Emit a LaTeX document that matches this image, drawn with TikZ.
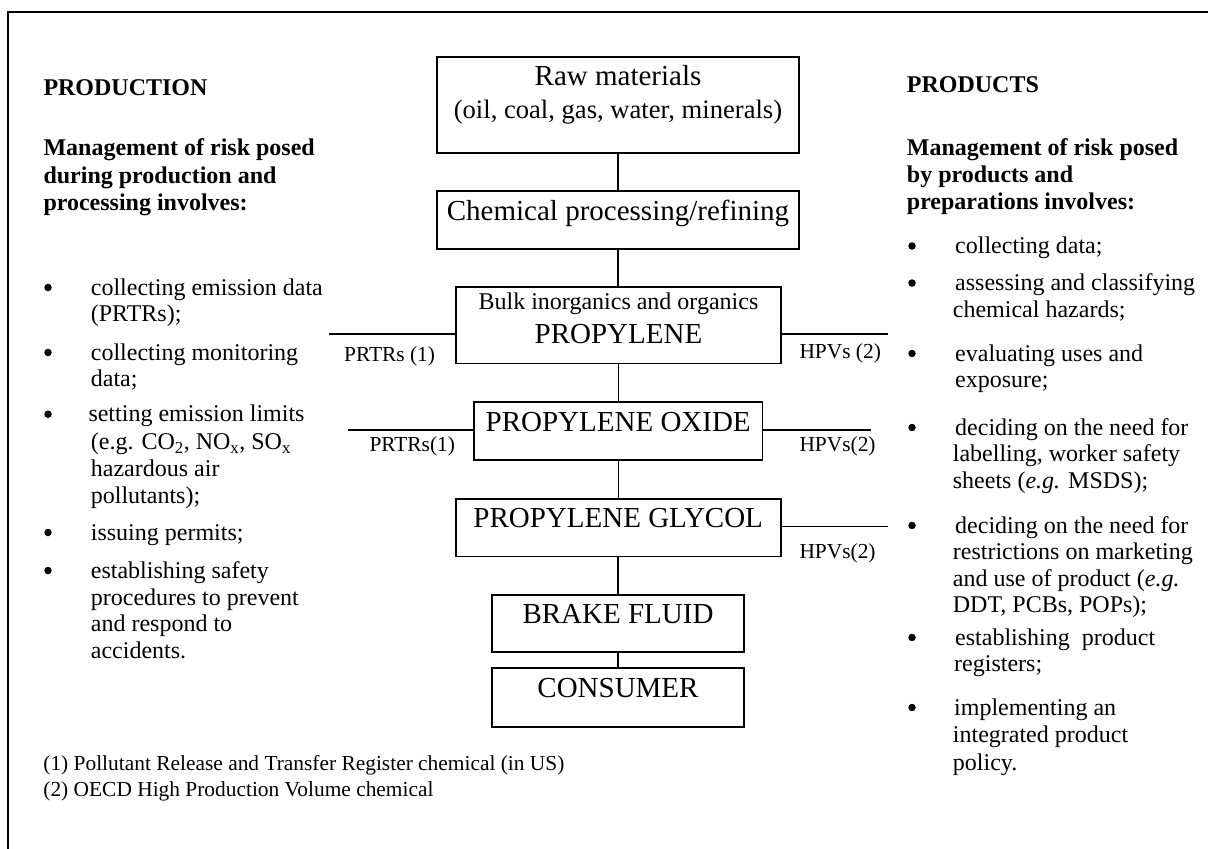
\documentclass[tikz,border=0pt]{standalone}
\usepackage{fontspec}
\setmainfont{Liberation Serif}
\tikzset{
  boxst/.style={draw, line width=1.7pt, inner sep=0pt},
  ln/.style={line width=1.4pt},
  frame/.style={line width=2.2pt},
  body/.style={anchor=base west, inner sep=0pt, font=\fontsize{24}{28}\selectfont},
  bodyb/.style={anchor=base west, inner sep=0pt, font=\fontsize{24}{28}\selectfont\bfseries},
  big/.style={anchor=base, inner sep=0pt, font=\fontsize{29}{33}\selectfont},
  mid/.style={anchor=base, inner sep=0pt, font=\fontsize{26.6}{30}\selectfont},
  cen/.style={anchor=base, inner sep=0pt, font=\fontsize{24}{28}\selectfont},
  small/.style={anchor=base west, inner sep=0pt, font=\fontsize{21.4}{25}\selectfont},
  dot/.style={circle, fill, inner sep=0pt, minimum size=7.5pt},
}
\begin{document}
\begin{tikzpicture}[x=1pt,y=-1pt]
\useasboundingbox (0,0) rectangle (1208,849);
% outer frame (top and left edges)
\coordinate (fcorner) at (8.3,12.3);
\coordinate (fbottom) at (8.3,860);
\coordinate (fright) at (1220,12.3);
\draw[frame] (fbottom) -- (fcorner) -- (fright);

% boxes
\node[boxst, minimum width=362pt, minimum height=96pt] (raw) at (618,105) {};
\node[boxst, minimum width=362pt, minimum height=58pt] (chem) at (618,220) {};
\node[boxst, minimum width=325pt, minimum height=76.3pt] (bulk) at (618.5,325.2) {};
\node[boxst, minimum width=288.5pt, minimum height=58pt] (oxide) at (618.2,431.3) {};
\node[boxst, minimum width=325pt, minimum height=57.3pt] (glycol) at (618.2,527.7) {};
\node[boxst, minimum width=252pt, minimum height=57pt] (brake) at (618,623.2) {};
\node[boxst, minimum width=252pt, minimum height=58.4pt] (consumer) at (618,697.5) {};

% box texts
\node[big] (rawt) at (618,85) {Raw materials};
\node[mid] (rawt2) at (618,118.3) {(oil, coal, gas, water, minerals)};
\node[big] (chemt) at (618,220) {Chemical processing/refining};
\node[cen] (bulkt) at (618.5,309.3) {Bulk inorganics and organics};
\node[big] (bulkt2) at (618.5,343) {PROPYLENE};
\node[big] (oxidet) at (618.2,431.7) {PROPYLENE OXIDE};
\node[big] (glycolt) at (618.2,527.7) {PROPYLENE GLYCOL};
\node[big] (braket) at (618,623.3) {BRAKE FLUID};
\node[big] (consumert) at (618,697.3) {CONSUMER};

% vertical connectors
\draw[ln] (raw.south) -- (chem.north);
\draw[ln] (chem.south) -- (chem.south |- bulk.north);
\draw[ln] (oxide.north |- bulk.south) -- (oxide.north);
\draw[ln] (oxide.south) -- (oxide.south |- glycol.north);
\draw[ln] (brake.north |- glycol.south) -- (brake.north);
\draw[ln] (brake.south) -- (consumer.north);

% side lines
\coordinate (bl) at (329,334);
\coordinate (br) at (888,334);
\coordinate (ol) at (347.7,430);
\coordinate (or) at (871,430);
\coordinate (gr) at (888,526.7);
\draw[ln] (bl) -- (bulk.west |- bl);
\draw[ln] (bulk.east |- br) -- (br);
\draw[ln] (ol) -- (oxide.west |- ol);
\draw[ln] (oxide.east |- or) -- (or);
\draw[ln] (glycol.east |- gr) -- (gr);

% side labels
\node[small] (lab1) at (344,361) {PRTRs (1)};
\node[small] (lab2) at (799.3,358) {HPVs (2)};
\node[small] (lab3) at (369.3,451.7) {PRTRs(1)};
\node[small] (lab4) at (799.3,451.7) {HPVs(2)};
\node[small] (lab5) at (799.3,558.3) {HPVs(2)};

% left column
\node[bodyb] (lh1) at (43.3,95) {PRODUCTION};
\node[bodyb] (lh2) at (43.3,155) {Management of risk posed};
\node[bodyb] (lh3) at (43.3,183) {during production and};
\node[bodyb] (lh4) at (43.3,210.7) {processing involves:};

\node[dot] (lb1) at (48,287.5) {};
\node[dot] (lb2) at (48,352.5) {};
\node[dot] (lb3) at (48,414.2) {};
\node[dot] (lb4) at (48,532.5) {};
\node[dot] (lb5) at (48,570.5) {};

\node[body] (l1) at (90.7,295) {collecting emission data};
\node[body] (l2) at (90.7,321.7) {(PRTRs);};
\node[body] (l3) at (90.7,360) {collecting monitoring};
\node[body] (l4) at (90.7,386) {data;};
\node[body] (l5) at (88.3,421.7) {setting emission limits};
\node[body] (l6) at (90.7,449.5) {(e.g. CO\textsubscript{2}, NO\textsubscript{x}, SO\textsubscript{x}};
\node[body] (l7) at (90.7,476.7) {hazardous air};
\node[body] (l8) at (90.7,503.3) {pollutants);};
\node[body] (l9) at (90.7,540) {issuing permits;};
\node[body] (l10) at (90.7,578) {establishing safety};
\node[body] (l11) at (90.7,605) {procedures to prevent};
\node[body] (l12) at (90.7,631.7) {and respond to};
\node[body] (l13) at (90.7,658.3) {accidents.};

% footnotes
\node[small] (fn1) at (43.2,770) {(1) Pollutant Release and Transfer Register chemical (in US)};
\node[small] (fn2) at (43.2,796.7) {(2) OECD High Production Volume chemical};

% right column
\node[bodyb] (rh1) at (906.7,92) {PRODUCTS};
\node[bodyb] (rh2) at (906.7,155) {Management of risk posed};
\node[bodyb] (rh3) at (906.7,182) {by products and};
\node[bodyb] (rh4) at (906.7,209) {preparations involves:};

\node[dot] (rb1) at (912,246) {};
\node[dot] (rb2) at (912,283) {};
\node[dot] (rb3) at (912,353.5) {};
\node[dot] (rb4) at (912,427.5) {};
\node[dot] (rb5) at (912,525.5) {};
\node[dot] (rb6) at (912,637.5) {};
\node[dot] (rb7) at (912,707.5) {};

\node[body] (r1) at (955,253.5) {collecting data;};
\node[body] (r2) at (955,290.5) {assessing and classifying};
\node[body] (r3) at (952.7,317) {chemical hazards;};
\node[body] (r4) at (955,361) {evaluating uses and};
\node[body] (r5) at (955,387.7) {exposure;};
\node[body] (r6) at (955,435) {deciding on the need for};
\node[body] (r7) at (952.7,461.7) {labelling, worker safety};
\node[body] (r8) at (952.7,488.3) {sheets (\textit{e.g.} MSDS);};
\node[body] (r9) at (955,533) {deciding on the need for};
\node[body] (r10) at (952.7,559.7) {restrictions on marketing};
\node[body] (r11) at (952.7,586.3) {and use of product (\textit{e.g.}};
\node[body] (r12) at (952.7,612) {DDT, PCBs, POPs);};
\node[body] (r13) at (955,645) {establishing\ \ product};
\node[body] (r14) at (954,671) {registers;};
\node[body] (r15) at (954,715) {implementing an};
\node[body] (r16) at (952.7,742.7) {integrated product};
\node[body] (r17) at (952.7,770) {policy.};
\end{tikzpicture}
\end{document}
